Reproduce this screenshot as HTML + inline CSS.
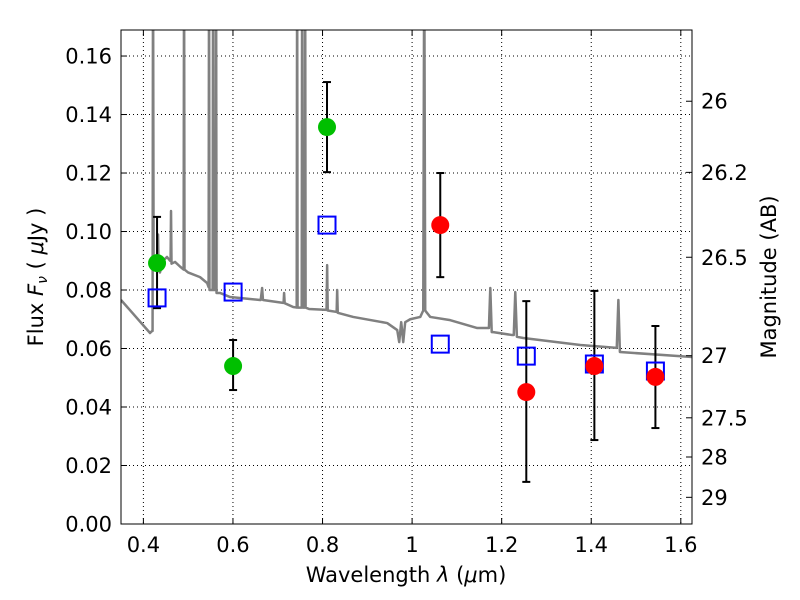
<!DOCTYPE html>
<html><head><meta charset="utf-8"><style>body{margin:0;background:#fff}svg{display:block}text{font-family:"DejaVu Sans","Liberation Sans",sans-serif;fill:#000}</style></head>
<body>
<svg id="chart" width="800" height="600">
<text x="406" y="582" text-anchor="middle" font-size="21">Wavelength  <tspan font-style="italic">λ</tspan> (<tspan font-style="italic">μ</tspan>m)</text>
<text transform="translate(43,277) rotate(-90)" text-anchor="middle" font-size="21">Flux  <tspan font-style="italic">F</tspan><tspan font-style="italic" font-size="14" dy="4">ν</tspan><tspan dy="-4">  ( </tspan><tspan font-style="italic">μ</tspan>Jy )</text>
<text transform="translate(776,277) rotate(-90)" text-anchor="middle" font-size="21">Magnitude (AB)</text>
</svg>
<script>
const specLam=[0.350,0.4148,0.4193,0.4205,0.4215,0.4228,0.430,0.4315,0.4327,0.4340,0.437,0.4439,0.4528,0.4595,0.4607,0.4617,0.4628,0.4707,0.482,0.4898,0.4908,0.4918,0.4997,0.5265,0.5422,0.5456,0.5466,0.5476,0.5546,0.5556,0.5566,0.5613,0.5623,0.5633,0.5712,0.5936,0.6606,0.6620,0.6651,0.6670,0.712,0.7130,0.7142,0.7155,0.7344,0.7423,0.7433,0.7443,0.7535,0.7545,0.7555,0.7602,0.7612,0.7622,0.770,0.8090,0.8103,0.8116,0.8315,0.8327,0.8340,0.8684,0.9444,0.9668,0.9712,0.9757,0.9802,0.9846,0.9958,1.0182,1.0249,1.0271,1.0293,1.0316,1.0405,1.0852,1.1455,1.1715,1.1746,1.1778,1.1813,1.2237,1.2270,1.2304,1.2340,1.2483,1.3757,1.4570,1.4606,1.4640,1.6254];
const specFlux=[0.0766,0.0653,0.066,0.066,0.2,0.088,0.088,0.088,0.099,0.087,0.086,0.090,0.0913,0.090,0.090,0.107,0.089,0.0896,0.088,0.087,0.2,0.087,0.086,0.0844,0.0824,0.081,0.2,0.080,0.080,0.2,0.080,0.080,0.2,0.079,0.079,0.0776,0.0766,0.0766,0.0807,0.0766,0.0756,0.0756,0.079,0.0755,0.0742,0.074,0.2,0.074,0.074,0.2,0.074,0.074,0.2,0.074,0.0735,0.0732,0.0885,0.073,0.0725,0.080,0.0722,0.0708,0.0687,0.0663,0.0622,0.069,0.0622,0.069,0.070,0.0708,0.073,0.2,0.073,0.0725,0.0708,0.0697,0.067,0.067,0.0807,0.0656,0.0656,0.0646,0.0646,0.0793,0.064,0.0636,0.0612,0.0602,0.0766,0.0588,0.0571];
const greenLam=[0.4305,0.6003,0.810];
const greenFlux=[0.0892,0.054,0.1357];
const greenHi=[0.105,0.0629,0.1511];
const greenLo=[0.0738,0.0458,0.1203];
const redLam=[1.0629,1.255,1.407,1.5433];
const redFlux=[0.1022,0.0451,0.054,0.0503];
const redHi=[0.120,0.0762,0.0797,0.0677];
const redLo=[0.0844,0.0144,0.0287,0.0328];
const modelLam=[0.4305,0.6003,0.810,1.0629,1.255,1.407,1.5433];
const modelFlux=[0.0773,0.0793,0.1022,0.0615,0.0574,0.0547,0.0523];
const xTicks=[0.4,0.6,0.8,1,1.2,1.4,1.6];
const xTickLabels=["0.4","0.6","0.8","1","1.2","1.4","1.6"];
const yTicks=[0,0.02,0.04,0.06,0.08,0.10,0.12,0.14,0.16];
const yTickLabels=["0.00","0.02","0.04","0.06","0.08","0.10","0.12","0.14","0.16"];
const magTicks=[26,26.2,26.5,27,27.5,28,29];
const magTickLabels=["26","26.2","26.5","27","27.5","28","29"];

const L=121,R=692,T=30,B=524,X0=0.35,X1=1.625,Y0=0,Y1=0.1689;
const sx=v=>L+(v-X0)/(X1-X0)*(R-L);
const sy=v=>B-(v-Y0)/(Y1-Y0)*(B-T);
const NS="http://www.w3.org/2000/svg";
const svg=document.getElementById('chart');
function mk(tag,attrs,parent){const e=document.createElementNS(NS,tag);for(const k in attrs)e.setAttribute(k,attrs[k]);(parent||svg).appendChild(e);return e;}
const defs=mk('defs',{});const cp=mk('clipPath',{id:'clip'},defs);mk('rect',{x:L,y:T,width:R-L,height:B-T},cp);

const grid=mk('g',{stroke:'#000','stroke-width':1,'stroke-dasharray':'1,3'});


xTicks.forEach(v=>mk('line',{x1:sx(v),x2:sx(v),y1:T,y2:B},grid));
yTicks.forEach(v=>mk('line',{x1:L,x2:R,y1:sy(v),y2:sy(v)},grid));

const plot=mk('g',{'clip-path':'url(#clip)'});
const sp=mk('polyline',{points:specLam.map((l,i)=>sx(l)+','+sy(specFlux[i])).join(' '),fill:'none',stroke:'#808080','stroke-width':2.5,'stroke-linejoin':'round'},plot);



function errbar(l,lo,hi,name){const g=mk('g',{stroke:'#000','stroke-width':2},plot);


const x=sx(l);mk('line',{x1:x,x2:x,y1:sy(lo),y2:sy(hi)},g);mk('line',{x1:x-4,x2:x+4,y1:sy(lo),y2:sy(lo)},g);mk('line',{x1:x-4,x2:x+4,y1:sy(hi),y2:sy(hi)},g);}
greenLam.forEach((l,i)=>errbar(l,greenLo[i],greenHi[i],'green-errorbar'));
redLam.forEach((l,i)=>errbar(l,redLo[i],redHi[i],'red-errorbar'));
modelLam.forEach((l,i)=>{const r=mk('rect',{x:sx(l)-8.5,y:sy(modelFlux[i])-8.5,width:17,height:17,fill:'none',stroke:'#0000ff','stroke-width':2},plot);

});
greenLam.forEach((l,i)=>{const c=mk('circle',{cx:sx(l),cy:sy(greenFlux[i]),r:9,fill:'#00bf00'},plot);

});
redLam.forEach((l,i)=>{const c=mk('circle',{cx:sx(l),cy:sy(redFlux[i]),r:9,fill:'#ff0000'},plot);

});

const ax=mk('g',{stroke:'#000','stroke-width':1});


mk('rect',{x:L,y:T,width:R-L,height:B-T,fill:'none'},ax);
xTicks.forEach((v,i)=>{const x=sx(v);mk('line',{x1:x,x2:x,y1:B,y2:B-6},ax);mk('line',{x1:x,x2:x,y1:T,y2:T+6},ax);
const t=mk('text',{x:x,y:B+28,'text-anchor':'middle','font-size':21,stroke:'none'});t.textContent=xTickLabels[i];

});
yTicks.forEach((v,i)=>{const y=sy(v);mk('line',{x1:L,x2:L+6,y1:y,y2:y},ax);
const t=mk('text',{x:L-9,y:y+7.5,'text-anchor':'end','font-size':21,stroke:'none'});t.textContent=yTickLabels[i];

});
magTicks.forEach((m,i)=>{const y=sy(Math.pow(10,(23.9-m)/2.5));mk('line',{x1:R,x2:R-6,y1:y,y2:y},ax);
const t=mk('text',{x:R+9,y:y+7.5,'text-anchor':'start','font-size':21,stroke:'none'});t.textContent=magTickLabels[i];

});
</script>
</body></html>
